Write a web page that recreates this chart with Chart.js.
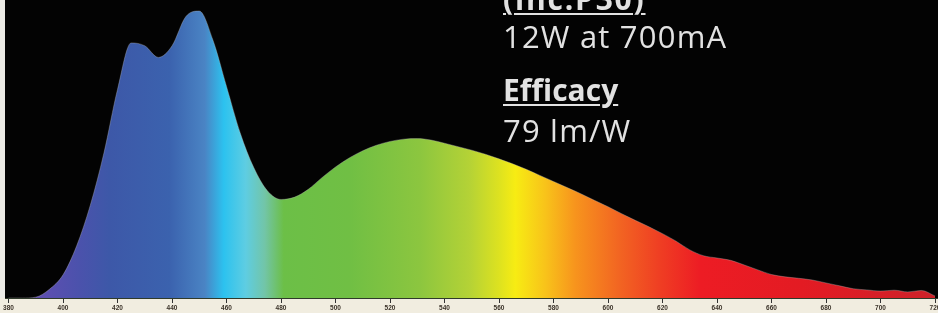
<!DOCTYPE html>
<html>
<head>
<meta charset="utf-8">
<script src="https://cdn.jsdelivr.net/npm/chart.js@4.4.0/dist/chart.umd.min.js"></script>
<style>
  body { margin: 0; background: #f1ede0; }
  #wrap { position: relative; width: 938px; height: 313px; overflow: hidden; }
  .note { position: absolute; left: 503px; color: #e2e2e2; font-family: 'Open Sans', sans-serif; font-size: 31px; letter-spacing: 1.2px; line-height: 1; white-space: nowrap; }
  .head { font-size: 30px; font-weight: 700; letter-spacing: 0; text-decoration: underline; text-underline-offset: 3px; text-decoration-thickness: 2px; }
</style>
</head>
<body>
<div id="wrap">
  <canvas id="myChart" width="938" height="313"></canvas>
  <div class="note head" style="top:-16px; letter-spacing:1.8px;">(inc.P30)</div>
  <div class="note" style="top:21px;">12W at 700mA</div>
  <div class="note head" style="top:75px;">Efficacy</div>
  <div class="note" style="top:115px;">79 lm/W</div>
</div>
<script>
// wavelength (nm) and relative intensity
const wavelengths = [380, 385, 390, 395, 400, 405, 410, 415, 420, 425, 430, 435, 440, 445, 450, 455, 460, 465, 470, 475,
  480, 485, 490, 495, 500, 505, 510, 515, 520, 525, 530, 535, 540, 545, 550, 555, 560, 565, 570, 575,
  580, 585, 590, 595, 600, 605, 610, 615, 620, 625, 630, 635, 640, 645, 650, 655, 660, 665, 670, 675,
  680, 685, 690, 695, 700, 705, 710, 715, 720];
const intensity = [0, 0, 0.3, 3, 8, 18, 32, 50, 72, 88, 87, 83, 87, 97, 99, 89, 73, 57, 45, 37,
  34, 34.8, 37.5, 41.5, 45.2, 48.3, 50.8, 52.7, 54, 54.8, 55, 54.5, 53.4, 52.2, 51, 49.6, 48, 46.3, 44.4, 42.3,
  40.2, 38.1, 36, 33.7, 31.5, 29.1, 26.8, 24.6, 22.2, 19.6, 16.6, 14.6, 13.8, 13, 11.4, 9.7, 8.1, 7.3, 6.8, 6.2,
  5.2, 4.2, 3.2, 2.8, 2.4, 2.7, 2.1, 2.6, 0.7];
const tickWavelengths = [380, 400, 420, 440, 460, 480, 500, 520, 540, 560, 580, 600, 620, 640, 660, 680, 700, 720];

// spectrum colours along the x axis
const spectrumStops = [
  [382, '#6a4fae'], [395, '#5a4fb0'], [406, '#4b52ac'], [417, '#3d58a8'], [439, '#3b62ae'],
  [452, '#4a84c4'], [459, '#2cc2ef'], [467, '#5ecde2'], [474, '#72c5a8'], [481, '#6cbf47'],
  [505, '#70bf44'], [531, '#8cc63f'], [549, '#b4d236'], [560, '#dde220'], [566, '#f7ec13'],
  [577, '#f8c31a'], [588, '#f7941d'], [604, '#f26522'], [619, '#ef3e23'], [634, '#ed1c24'],
  [671, '#e31b23'], [721, '#cc2229']
];

function spectrumFill(context) {
  const chart = context.chart;
  const area = chart.chartArea;
  if (!area) return '#3b62ae';
  const xs = chart.scales.x;
  const g = chart.ctx.createLinearGradient(area.left, 0, area.right, 0);
  spectrumStops.forEach(function (s) {
    let p = (xs.getPixelForValue(s[0]) - area.left) / (area.right - area.left);
    p = Math.min(1, Math.max(0, p));
    g.addColorStop(p, s[1]);
  });
  return g;
}

// black plot panel on a cream page
const panel = {
  id: 'panel',
  beforeDraw: function (chart) {
    const c = chart.ctx, a = chart.chartArea;
    c.save();
    c.fillStyle = '#f1ede0';
    c.fillRect(0, 0, chart.width, chart.height);
    c.fillStyle = '#ecebe6';
    c.fillRect(0, 0, a.left, a.bottom);
    c.fillStyle = '#030303';
    c.fillRect(a.left, a.top, a.right - a.left, a.bottom - a.top);
    c.restore();
  }
};

const data = {
  datasets: [{
    data: wavelengths.map(function (w, i) { return { x: w, y: intensity[i] }; }),
    fill: 'origin',
    backgroundColor: spectrumFill,
    borderColor: 'rgba(185,185,185,0.35)',
    borderWidth: 1,
    pointRadius: 0,
    cubicInterpolationMode: 'monotone'
  }]
};

const config = {
  type: 'line',
  data: data,
  options: {
    responsive: false,
    animation: false,
    layout: { padding: { left: 5, right: 0, top: 0, bottom: 0 } },
    plugins: { legend: { display: false }, tooltip: { enabled: false } },
    scales: {
      x: {
        type: 'linear',
        min: 378.7,
        max: 721.1,
        afterBuildTicks: function (scale) {
          scale.ticks = tickWavelengths.map(function (v) { return { value: v }; });
        },
        afterFit: function (scale) {
          scale.height = 15;
          scale.paddingLeft = 0;
          scale.paddingRight = 0;
        },
        border: { display: true, color: '#2f3a2a', width: 1 },
        grid: { drawOnChartArea: false, color: '#333', tickLength: 5 },
        ticks: { color: '#3a3228', padding: 1, maxRotation: 0, autoSkip: false, font: { size: 6.5, family: 'Arial', weight: 'bold' } }
      },
      y: { display: false, min: 0, max: 102.8 }
    }
  },
  plugins: [panel]
};

const myChart = new Chart(document.getElementById('myChart'), config);
</script>
</body>
</html>
